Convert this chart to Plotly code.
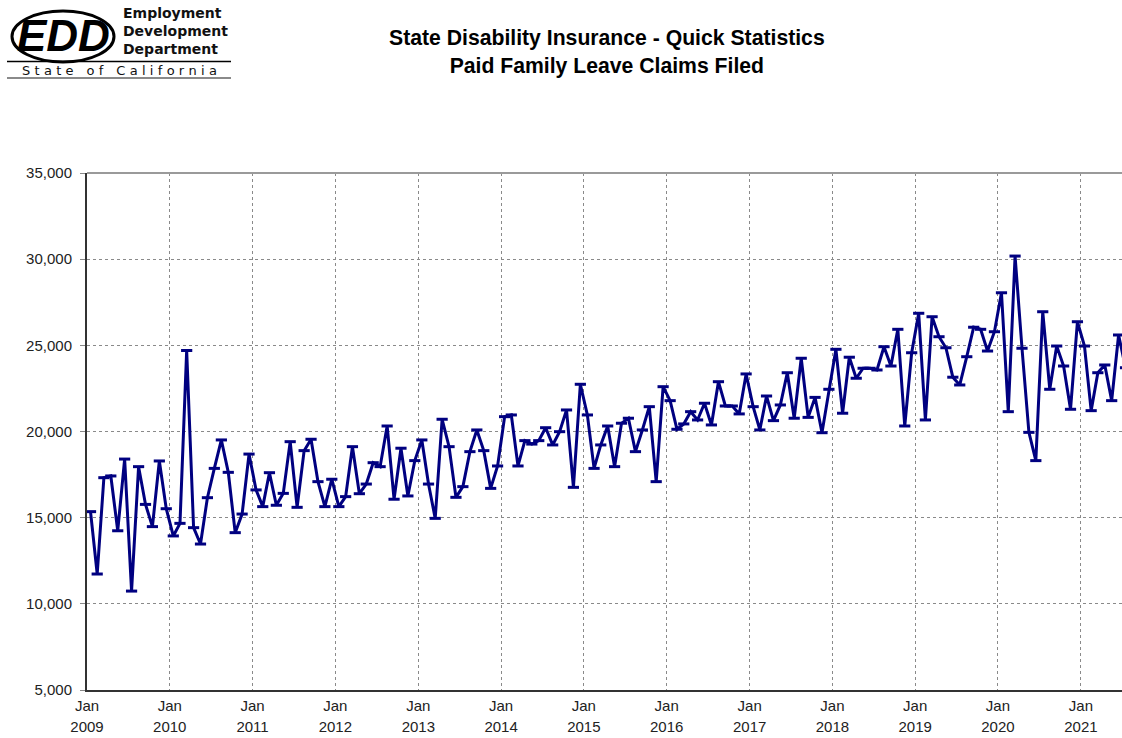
import pandas as pd
import plotly.graph_objects as go

# ---- data: Paid Family Leave claims filed, monthly Jan 2009 - Jul 2021 ----
start_month = "2009-01-01"
claims = [
    # 2009
    15350, 11730, 17320, 17420, 14240, 18400, 10740, 17960, 15770, 14480, 18290, 15520,
    # 2010
    13940, 14670, 24700, 14420, 13470, 16160, 17860, 19510, 17630, 14130, 15210, 18690,
    # 2011
    16610, 15640, 17610, 15720, 16410, 19410, 15600, 18890, 19550, 17090, 15640, 17230,
    # 2012
    15640, 16220, 19120, 16390, 16950, 18190, 17960, 20320, 16070, 19030, 16260, 18310,
    # 2013
    19510, 16950, 14960, 20710, 19120, 16180, 16800, 18830, 20090, 18890, 16700, 18000,
    # 2014
    20860, 20960, 18000, 19470, 19270, 19470, 20220, 19220, 19990, 21250, 16760, 22740,
    # 2015
    20960, 17860, 19220, 20320, 17960, 20480, 20770, 18830, 20090, 21440, 17090, 22600,
    # 2016
    21790, 20130, 20440, 21150, 20670, 21640, 20380, 22890, 21480, 21480, 21020, 23340,
    # 2017
    21440, 20090, 22060, 20630, 21540, 23410, 20770, 24250, 20820, 21980, 19930, 22450,
    # 2018
    24770, 21060, 24310, 23090, 23670, 23670, 23570, 24920, 23800, 25930, 20320, 24570,
    # 2019
    26860, 20670, 26660, 25500, 24860, 23150, 22700, 24340, 26050, 25930, 24670, 25790,
    # 2020
    28050, 21150, 30180, 24830, 19950, 18310, 26950, 22450, 24960, 23800, 21290, 26370,
    # 2021
    24960, 21210, 23410, 23860, 21790, 25600, 23700,
]
year_ticks = list(range(2009, 2022))
tick_month_label = "Jan"
y_ticks = [5000, 10000, 15000, 20000, 25000, 30000, 35000]
title_lines = ["State Disability Insurance - Quick Statistics", "Paid Family Leave Claims Filed"]

months = pd.date_range(start_month, periods=len(claims), freq="MS")

# ---- layout geometry (pixels) ----
W, H = 1122, 738
L, R, T, B = 87, 1122, 173, 690


def px(x):
    return (x - L) / (R - L)


def py(y):
    return (B - y) / (B - T)


NAVY = "#000080"

fig = go.Figure()
fig.add_trace(go.Scatter(
    x=months,
    y=claims,
    xperiod="M1",
    xperiodalignment="middle",
    mode="lines+markers",
    line=dict(color=NAVY, width=3),
    marker=dict(symbol="line-ew", size=8, line=dict(color=NAVY, width=3), color=NAVY),
    hoverinfo="x+y",
    showlegend=False,
))

tickvals = [f"{y}-01-01" for y in year_ticks]
ticktext = [
    f"<span style='font-size:15px'>{tick_month_label}</span><br>"
    f"<span style='font-size:15px'>{y}</span>" for y in year_ticks
]

fig.update_xaxes(
    type="date",
    range=[start_month, "2021-07-01"],
    tickmode="array",
    tickvals=tickvals,
    ticktext=ticktext,
    tickfont=dict(family="Liberation Sans, Arial, sans-serif", size=16, color="#222"),
    showgrid=True,
    gridcolor="#8a8a8a",
    gridwidth=1,
    griddash="dot",
    showline=True,
    linecolor="#333",
    linewidth=2,
    ticks="",
    zeroline=False,
    fixedrange=True,
)
fig.update_yaxes(
    range=[5000, 35000],
    tickmode="array",
    tickvals=y_ticks,
    ticktext=[f"{v:,}" for v in y_ticks],
    tickfont=dict(family="Liberation Sans, Arial, sans-serif", size=15, color="#222"),
    ticklabelstandoff=5,
    showgrid=True,
    gridcolor="#8a8a8a",
    gridwidth=1,
    griddash="dot",
    showline=True,
    linecolor="#333",
    linewidth=2,
    ticks="outside",
    ticklen=5,
    tickcolor="#888",
    zeroline=False,
    fixedrange=True,
)

shapes = [
    # top border of plot area
    dict(type="line", xref="paper", yref="paper", x0=0, x1=1, y0=1, y1=1,
         line=dict(color="#9a9a9a", width=2)),
    # logo ellipse
    dict(type="circle", xref="paper", yref="paper", x0=px(12), x1=px(114), y0=py(62), y1=py(11),
         line=dict(color="black", width=3)),
    # logo rules
    dict(type="line", xref="paper", yref="paper", x0=px(7), x1=px(231), y0=py(61.5), y1=py(61.5),
         line=dict(color="black", width=1.5)),
    dict(type="line", xref="paper", yref="paper", x0=px(7), x1=px(231), y0=py(78), y1=py(78),
         line=dict(color="#8a8a8a", width=2)),
]

sp = "\u2004"
state_text = "\u2003".join(sp.join(list(w)) for w in "State of California".split(" "))

annotations = [
    dict(text="<b><i>EDD</i></b>", xref="paper", yref="paper", x=px(63), y=py(36),
         xanchor="center", yanchor="middle", showarrow=False,
         font=dict(family="Liberation Sans, Arial, sans-serif", size=44, color="black")),
    dict(text="<b>Employment</b><br><b>Development</b><br><b>Department</b>", xref="paper", yref="paper",
         x=px(121), y=py(31), xanchor="left", yanchor="middle", align="left", showarrow=False,
         font=dict(family="DejaVu Sans, sans-serif", size=14, color="#111")),
    dict(text=state_text, xref="paper", yref="paper", x=px(119), y=py(70),
         xanchor="center", yanchor="middle", showarrow=False,
         font=dict(family="DejaVu Sans, sans-serif", size=13, color="#111")),
    dict(text="<b>" + title_lines[0] + "</b><br><b>" + title_lines[1] + "</b>",
         xref="paper", yref="paper", x=px(607), y=py(52.5), xanchor="center", yanchor="middle",
         align="center", showarrow=False,
         font=dict(family="Liberation Sans, Arial, sans-serif", size=21.2, color="black")),
]

fig.update_layout(
    width=W,
    height=H,
    margin=dict(l=L, r=W - R, t=T, b=H - B, pad=0),
    paper_bgcolor="white",
    plot_bgcolor="white",
    shapes=shapes,
    annotations=annotations,
    showlegend=False,
)

fig.write_html(
    "out.html",
    config={"displayModeBar": False},
    post_script="document.body.style.margin='0px'; document.body.style.overflow='hidden';",
)
